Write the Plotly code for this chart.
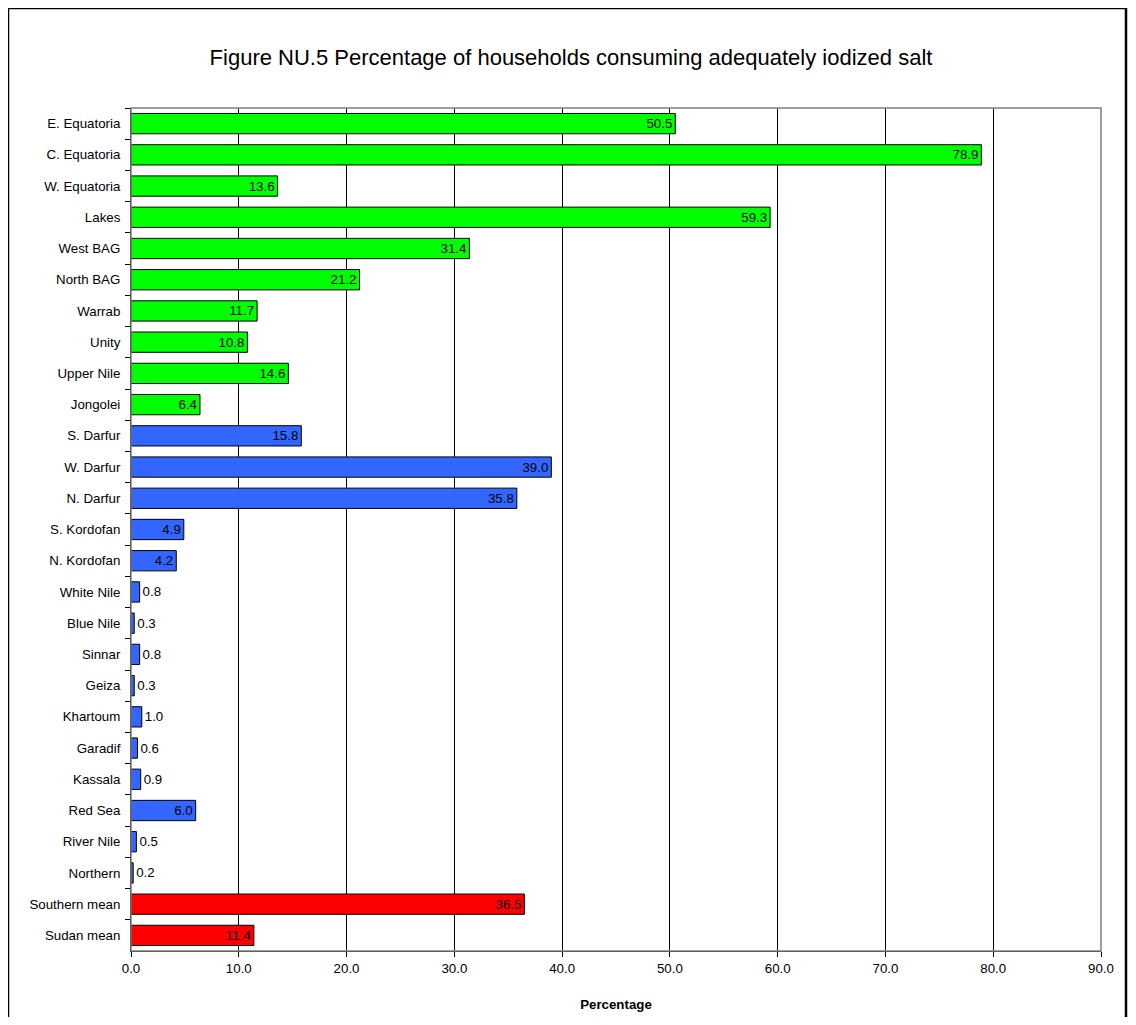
import plotly.graph_objects as go

categories = ["E. Equatoria", "C. Equatoria", "W. Equatoria", "Lakes", "West BAG", "North BAG",
              "Warrab", "Unity", "Upper Nile", "Jongolei", "S. Darfur", "W. Darfur", "N. Darfur",
              "S. Kordofan", "N. Kordofan", "White Nile", "Blue Nile", "Sinnar", "Geiza", "Khartoum",
              "Garadif", "Kassala", "Red Sea", "River Nile", "Northern", "Southern mean", "Sudan mean"]
values = [50.5, 78.9, 13.6, 59.3, 31.4, 21.2, 11.7, 10.8, 14.6, 6.4, 15.8, 39.0, 35.8,
          4.9, 4.2, 0.8, 0.3, 0.8, 0.3, 1.0, 0.6, 0.9, 6.0, 0.5, 0.2, 36.5, 11.4]
groups = ["south"] * 10 + ["north"] * 15 + ["mean"] * 2
x_ticks = [0, 10, 20, 30, 40, 50, 60, 70, 80, 90]

group_colors = {"south": "#00FF00", "north": "#3366FF", "mean": "#FF0000"}
colors = [group_colors[g] for g in groups]
positions = ["inside" if v >= 2 else "outside" for v in values]

FONT = "Liberation Sans, Arial"
FS = 13.3

W, H = 1120, 1009
L, R, T, B = 123, 27, 100, 66
PW, PH = W - L - R, H - T - B

fig = go.Figure()
fig.add_trace(go.Bar(
    y=categories, x=values, orientation="h",
    marker=dict(color=colors, line=dict(color="black", width=1)),
    text=[f"{v:.1f}" for v in values],
    textposition=positions,
    insidetextanchor="end",
    textangle=0,
    textfont=dict(family=FONT, size=FS, color="black"),
    cliponaxis=False,
    hoverinfo="skip",
))

fig.update_layout(
    width=W, height=H,
    margin=dict(l=L, r=R, t=T, b=B, autoexpand=False),
    paper_bgcolor="white", plot_bgcolor="white",
    font=dict(family=FONT, size=FS, color="black"),
    bargap=0.35,
    showlegend=False,
    uniformtext=dict(minsize=FS, mode="show"),
    title=dict(text="Figure NU.5 Percentage of households consuming adequately iodized salt",
               x=(571 - 8) / W, xanchor="center", y=1 - 49 / H, yanchor="middle",
               font=dict(size=22, family=FONT, color="black")),
    xaxis=dict(range=[0, 90], tickvals=x_ticks, ticktext=[f"{t:.1f}" for t in x_ticks],
               showgrid=True, gridcolor="#000000", gridwidth=1,
               showline=True, linecolor="black", linewidth=1, mirror=False,
               ticks="outside", ticklen=5, tickcolor="black",
               zeroline=False, automargin=False,
               title=dict(text="<b>Percentage</b>", standoff=24, font=dict(size=FS)),
               tickfont=dict(size=FS)),
    yaxis=dict(categoryorder="array", categoryarray=categories, autorange="reversed",
               showline=True, linecolor="black", linewidth=1, automargin=False,
               ticks="outside", ticklen=5, tickcolor="black", tickson="boundaries",
               showgrid=False, tickfont=dict(size=FS), ticklabelstandoff=7),
    shapes=[
        dict(type="rect", xref="paper", yref="paper", x0=0, x1=1, y0=0, y1=1,
             line=dict(color="#808080", width=1.5), layer="above"),
        dict(type="rect", xref="paper", yref="paper",
             x0=(0 - L) / PW, x1=(1118 - L) / PW, y0=-(B + 20) / PH, y1=1 + (T - 0) / PH,
             line=dict(color="black", width=2.5), layer="above"),
    ],
)

fig.write_html("out.html")
